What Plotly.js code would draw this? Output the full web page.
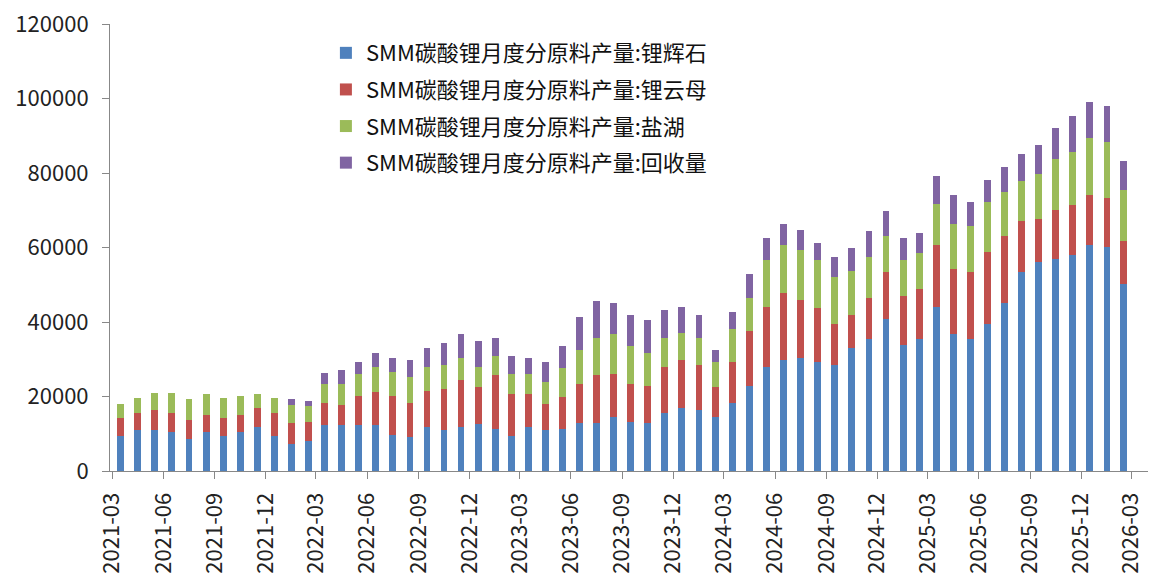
<!DOCTYPE html>
<html>
<head>
<meta charset="utf-8">
<script src="https://cdn.plot.ly/plotly-3.0.1.min.js"></script>
<style>html,body{margin:0;padding:0;background:#fff;}#chart{width:1150px;height:575px;}</style>
</head>
<body>
<div id="chart"></div>
<script>
var months = [
 "2021-03","2021-04","2021-05","2021-06","2021-07","2021-08","2021-09","2021-10","2021-11","2021-12",
 "2022-01","2022-02","2022-03","2022-04","2022-05","2022-06","2022-07","2022-08","2022-09","2022-10",
 "2022-11","2022-12","2023-01","2023-02","2023-03","2023-04","2023-05","2023-06","2023-07","2023-08",
 "2023-09","2023-10","2023-11","2023-12","2024-01","2024-02","2024-03","2024-04","2024-05","2024-06",
 "2024-07","2024-08","2024-09","2024-10","2024-11","2024-12","2025-01","2025-02","2025-03","2025-04",
 "2025-05","2025-06","2025-07","2025-08","2025-09","2025-10","2025-11","2025-12","2026-01","2026-02"
];
var spodumene = [
 9490,10920,10920,10470,8590,10470,9490,10470,11810,9490,
 7250,8140,12260,12260,12260,12260,9580,9040,11810,10920,
 11810,12710,11370,9490,11810,10920,11370,12800,12800,14590,
 13240,12800,15570,16910,16470,14590,18260,22910,27920,29800,
 30250,29350,28370,33020,35350,40900,33920,35350,44120,36690,
 35350,39460,45010,53330,56110,57000,57900,60670,60230,50110
];
var lepidolite = [
 4650,4560,5550,5010,5100,4560,4650,4560,5100,5990,
 5550,5100,6000,5550,7880,8860,10560,9220,9670,11100,
 12530,9760,14320,11100,8770,6980,8410,10650,12890,11540,
 10110,10110,12440,12890,11990,7880,11100,14760,16200,17990,
 15750,14320,11190,8770,11100,12440,12980,13420,16560,17600,
 17990,19420,18080,13870,11540,12980,13420,13420,12980,11540
];
var brine = [
 3760,4120,4560,5550,5550,5550,5550,5100,3670,4120,
 5010,4120,5100,5550,6000,6890,6440,6980,6530,6440,
 5910,5550,5100,5550,5550,5910,7790,9130,10110,10560,
 10110,8770,7790,7340,7340,6890,8770,8730,12440,12890,
 13330,12890,12440,11990,11100,9670,9670,9660,11100,11940,
 12440,13330,11900,10560,11990,13780,14320,15210,15120,13780
];
var recycling = [
 0,0,0,0,0,0,0,0,0,0,
 1430,1340,2860,3670,3220,3670,3670,4560,5010,6000,
 6440,6890,5010,4650,4120,5550,5910,8770,9750,8320,
 8320,8770,7340,6980,6000,3220,4650,6440,6000,5550,
 5460,4560,5460,6000,6890,6890,6000,5550,7430,7880,
 6440,5990,6530,7430,7790,8320,9660,9670,9750,7870
];
var seriesNames = [
 "SMM碳酸锂月度分原料产量:锂辉石",
 "SMM碳酸锂月度分原料产量:锂云母",
 "SMM碳酸锂月度分原料产量:盐湖",
 "SMM碳酸锂月度分原料产量:回收量"
];
var seriesColors = ["#4F81BD","#C0504D","#9BBB59","#8064A2"];
var seriesData = [spodumene, lepidolite, brine, recycling];

var traces = seriesData.map(function(d, i){
  return {
    type: "bar",
    x: months,
    y: d,
    name: seriesNames[i],
    legendgroup: "g" + i,
    xperiod: "M1",
    xperiodalignment: "middle",
    marker: {color: seriesColors[i], line: {width: 0}},
    hoverinfo: "x+y+name"
  };
});

var fontFam = "'Microsoft YaHei','Noto Sans CJK SC','Noto Sans',sans-serif";
var layout = {
  width: 1150, height: 575,
  margin: {l: 110, r: 2, t: 24, b: 104, autoexpand: false},
  paper_bgcolor: "#fff", plot_bgcolor: "#fff",
  barmode: "stack",
  bargap: 0.58,
  font: {family: fontFam, size: 22, color: "#222"},
  showlegend: true,
  legend: {
    xref: "paper", yref: "paper",
    x: 0.208, y: 0.982, xanchor: "left", yanchor: "top",
    traceorder: "grouped", tracegroupgap: 5,
    font: {family: fontFam, size: 22, color: "#111"},
    bgcolor: "rgba(0,0,0,0)"
  },
  xaxis: {
    type: "date",
    range: ["2021-02-25", "2026-03-31"],
    tick0: "2021-03-01", dtick: "M3",
    tickformat: "%Y-%m",
    tickangle: -90,
    ticks: "outside", ticklen: 7, tickcolor: "#888", tickwidth: 1,
    ticklabelstandoff: 5,
    showline: true, linecolor: "#888", linewidth: 1,
    showgrid: false, zeroline: false,
    tickfont: {family: fontFam, size: 22, color: "#222"}
  },
  yaxis: {
    range: [0, 120000],
    dtick: 20000,
    tickformat: "d",
    ticks: "outside", ticklen: 7, tickcolor: "#888", tickwidth: 1,
    ticklabelstandoff: 9,
    showline: true, linecolor: "#888", linewidth: 1,
    showgrid: false, zeroline: false,
    tickfont: {family: fontFam, size: 22, color: "#222"}
  }
};
Plotly.newPlot("chart", traces, layout, {displayModeBar: false, staticPlot: true});
</script>
</body>
</html>
